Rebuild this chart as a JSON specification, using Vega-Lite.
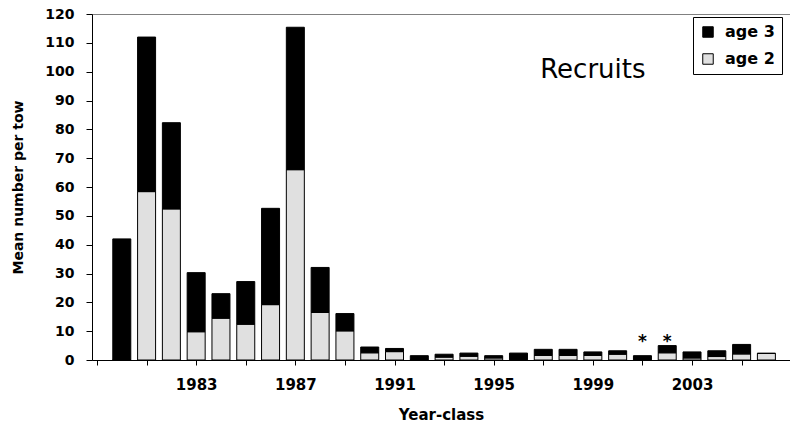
{
  "$schema": "https://vega.github.io/schema/vega-lite/v6.json",
  "width": 698,
  "height": 346,
  "autosize": "none",
  "padding": {"left": 92, "top": 14, "right": 0, "bottom": 64},
  "background": "white",
  "config": {
    "view": {"stroke": "#808080", "strokeWidth": 1},
    "font": "DejaVu Sans",
    "axis": {"grid": false, "domainColor": "#000000", "tickColor": "#000000", "labelColor": "#000000", "titleColor": "#000000", "labelFont": "DejaVu Sans", "titleFont": "DejaVu Sans", "labelFontWeight": "bold", "titleFontWeight": "bold"},
    "axisY": {
      "values": [0,10,20,30,40,50,60,70,80,90,100,110,120],
      "labelFontSize": 14,
      "labelPadding": 12,
      "labelOverlap": false,
      "labelFlush": false,
      "tickSize": 6,
      "titleFontSize": 14,
      "titlePadding": 19
    }
  },
  "layer": [
    {
      "data": {"values": [
        {"year": 1980, "age": "age 2", "value": 0}, {"year": 1980, "age": "age 3", "value": 42.0},
        {"year": 1981, "age": "age 2", "value": 58.4}, {"year": 1981, "age": "age 3", "value": 53.6},
        {"year": 1982, "age": "age 2", "value": 52.4}, {"year": 1982, "age": "age 3", "value": 29.9},
        {"year": 1983, "age": "age 2", "value": 9.8}, {"year": 1983, "age": "age 3", "value": 20.5},
        {"year": 1984, "age": "age 2", "value": 14.5}, {"year": 1984, "age": "age 3", "value": 8.5},
        {"year": 1985, "age": "age 2", "value": 12.4}, {"year": 1985, "age": "age 3", "value": 14.8},
        {"year": 1986, "age": "age 2", "value": 19.2}, {"year": 1986, "age": "age 3", "value": 33.4},
        {"year": 1987, "age": "age 2", "value": 66.0}, {"year": 1987, "age": "age 3", "value": 49.4},
        {"year": 1988, "age": "age 2", "value": 16.5}, {"year": 1988, "age": "age 3", "value": 15.6},
        {"year": 1989, "age": "age 2", "value": 10.1}, {"year": 1989, "age": "age 3", "value": 6.0},
        {"year": 1990, "age": "age 2", "value": 2.5}, {"year": 1990, "age": "age 3", "value": 2.0},
        {"year": 1991, "age": "age 2", "value": 2.9}, {"year": 1991, "age": "age 3", "value": 1.1},
        {"year": 1992, "age": "age 2", "value": 0.2}, {"year": 1992, "age": "age 3", "value": 1.3},
        {"year": 1993, "age": "age 2", "value": 1.0}, {"year": 1993, "age": "age 3", "value": 1.0},
        {"year": 1994, "age": "age 2", "value": 1.3}, {"year": 1994, "age": "age 3", "value": 1.1},
        {"year": 1995, "age": "age 2", "value": 0.7}, {"year": 1995, "age": "age 3", "value": 0.8},
        {"year": 1996, "age": "age 2", "value": 0.1}, {"year": 1996, "age": "age 3", "value": 2.3},
        {"year": 1997, "age": "age 2", "value": 1.6}, {"year": 1997, "age": "age 3", "value": 2.1},
        {"year": 1998, "age": "age 2", "value": 1.6}, {"year": 1998, "age": "age 3", "value": 2.1},
        {"year": 1999, "age": "age 2", "value": 1.6}, {"year": 1999, "age": "age 3", "value": 1.2},
        {"year": 2000, "age": "age 2", "value": 2.0}, {"year": 2000, "age": "age 3", "value": 1.2},
        {"year": 2001, "age": "age 2", "value": 0.2}, {"year": 2001, "age": "age 3", "value": 1.3},
        {"year": 2002, "age": "age 2", "value": 2.5}, {"year": 2002, "age": "age 3", "value": 2.5},
        {"year": 2003, "age": "age 2", "value": 0.7}, {"year": 2003, "age": "age 3", "value": 2.1},
        {"year": 2004, "age": "age 2", "value": 1.2}, {"year": 2004, "age": "age 3", "value": 2.0},
        {"year": 2005, "age": "age 2", "value": 2.1}, {"year": 2005, "age": "age 3", "value": 3.3},
        {"year": 2006, "age": "age 2", "value": 2.3}, {"year": 2006, "age": "age 3", "value": 0}
      ]},
      "mark": {"type": "bar", "size": 18, "stroke": "#000000", "strokeWidth": 1},
      "encoding": {
        "x": {
          "field": "year", "type": "quantitative",
          "scale": {"domain": [1979, 2006.75], "nice": false, "zero": false},
          "axis": {
            "title": "Year-class",
            "values": [1979,1980,1981,1982,1983,1984,1985,1986,1987,1988,1989,1990,1991,1992,1993,1994,1995,1996,1997,1998,1999,2000,2001,2002,2003,2004,2005,2006],
            "format": "d",
            "labelExpr": "datum.value >= 1983 && (datum.value - 1983) % 4 == 0 ? datum.label : ''",
            "labelFontSize": 15,
            "labelPadding": 12,
            "labelFlush": false,
            "labelOverlap": false,
            "tickSize": 5,
            "titleFontSize": 15,
            "titlePadding": 15
          }
        },
        "y": {
          "field": "value", "type": "quantitative", "aggregate": "sum", "stack": "zero",
          "title": "Mean number per tow",
          "scale": {"domain": [0, 120], "nice": false}
        },
        "color": {
          "field": "age", "type": "nominal",
          "scale": {"domain": ["age 3", "age 2"], "range": ["#000000", "#e0e0e0"]},
          "legend": {
            "title": null,
            "orient": "none",
            "legendX": 601,
            "legendY": 3,
            "padding": 7,
            "strokeColor": "#000000",
            "fillColor": "#ffffff",
            "symbolType": "square",
            "symbolSize": 110,
            "symbolStrokeColor": "#000000",
            "symbolStrokeWidth": 1,
            "symbolOpacity": 1,
            "labelFont": "DejaVu Sans",
            "labelFontWeight": "bold",
            "labelFontSize": 16,
            "labelColor": "#000000",
            "labelOffset": 9,
            "rowPadding": 11
          }
        },
        "order": {"field": "age", "sort": "ascending"}
      }
    },
    {
      "data": {"values": [{"year": 2001, "note": "*"}, {"year": 2002, "note": "*"}]},
      "mark": {"type": "text", "font": "DejaVu Sans", "fontWeight": "bold", "fontSize": 17, "baseline": "alphabetic", "align": "center", "color": "#000000"},
      "encoding": {
        "x": {"field": "year", "type": "quantitative"},
        "y": {"datum": 4.6, "title": "Mean number per tow"},
        "text": {"field": "note"}
      }
    },
    {
      "data": {"values": [{"label": "Recruits"}]},
      "mark": {"type": "text", "font": "DejaVu Sans", "fontSize": 26, "baseline": "middle", "align": "center", "color": "#000000"},
      "encoding": {
        "x": {"datum": 1999.0},
        "y": {"datum": 100.6, "title": "Mean number per tow"},
        "text": {"field": "label"}
      }
    }
  ]
}
